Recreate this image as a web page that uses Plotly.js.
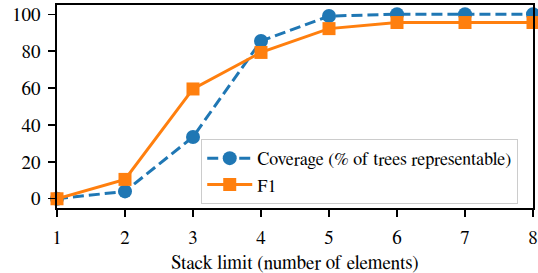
<!DOCTYPE html>
<html><head><meta charset="utf-8">
<script src="https://cdn.plot.ly/plotly-3.0.1.min.js"></script>
<style>html,body{margin:0;padding:0;background:#fff;}#chart{width:538px;height:273px;}</style>
</head><body><div id="chart"></div>
<script>
const stackLimits = [1, 2, 3, 4, 5, 6, 7, 8];
const coverage = [0, 4, 33.5, 85.5, 99, 100, 100, 100];
const f1 = [0, 10.5, 59.5, 79.3, 92.2, 95.5, 95.5, 95.5];
const xTicks = [1, 2, 3, 4, 5, 6, 7, 8];
const yTicks = [0, 20, 40, 60, 80, 100];

const fam = 'FreeSerif';
const font = {family: fam, size: 19, color: '#000'};

const traces = [
  {x: stackLimits, y: coverage, name: 'Coverage (% of trees representable)', mode: 'lines+markers',
   line: {color: '#1f77b4', width: 3, dash: '11px,5px'}, marker: {symbol: 'circle', size: 14, color: '#1f77b4'}, cliponaxis: false},
  {x: stackLimits, y: f1, name: 'F1', mode: 'lines+markers',
   line: {color: '#ff7f0e', width: 3}, marker: {symbol: 'square', size: 13, color: '#ff7f0e'}, cliponaxis: false}
];

const axisCommon = {showline: true, mirror: true, linecolor: '#000', linewidth: 1.6, ticks: 'outside', ticklen: 7, tickwidth: 1.3, tickcolor: '#000', showgrid: false, zeroline: false, tickfont: font};

const layout = {
  width: 538, height: 273,
  margin: {l: 57, r: 5, t: 5, b: 65},
  paper_bgcolor: '#fff', plot_bgcolor: '#fff',
  font: font,
  showlegend: true,
  legend: {x: 0.303, y: 0.02, xanchor: 'left', yanchor: 'bottom', bordercolor: '#cccccc', borderwidth: 1, bgcolor: 'rgba(255,255,255,0.8)', font: {family: fam, size: 18, color: '#000'}, tracegroupgap: 0, itemwidth: 45},
  xaxis: Object.assign({}, axisCommon, {range: [1, 8], tickvals: xTicks, ticktext: xTicks.map(String), ticklabelstandoff: 5, title: {text: 'Stack limit (number of elements)', font: {family: fam, size: 19, color: '#000'}, standoff: 11}}),
  yaxis: Object.assign({}, axisCommon, {range: [-5, 105], tickvals: yTicks, ticktext: yTicks.map(String), ticklabelstandoff: 4})
};

Plotly.newPlot('chart', traces, layout, {staticPlot: true, displayModeBar: false});
</script></body></html>
